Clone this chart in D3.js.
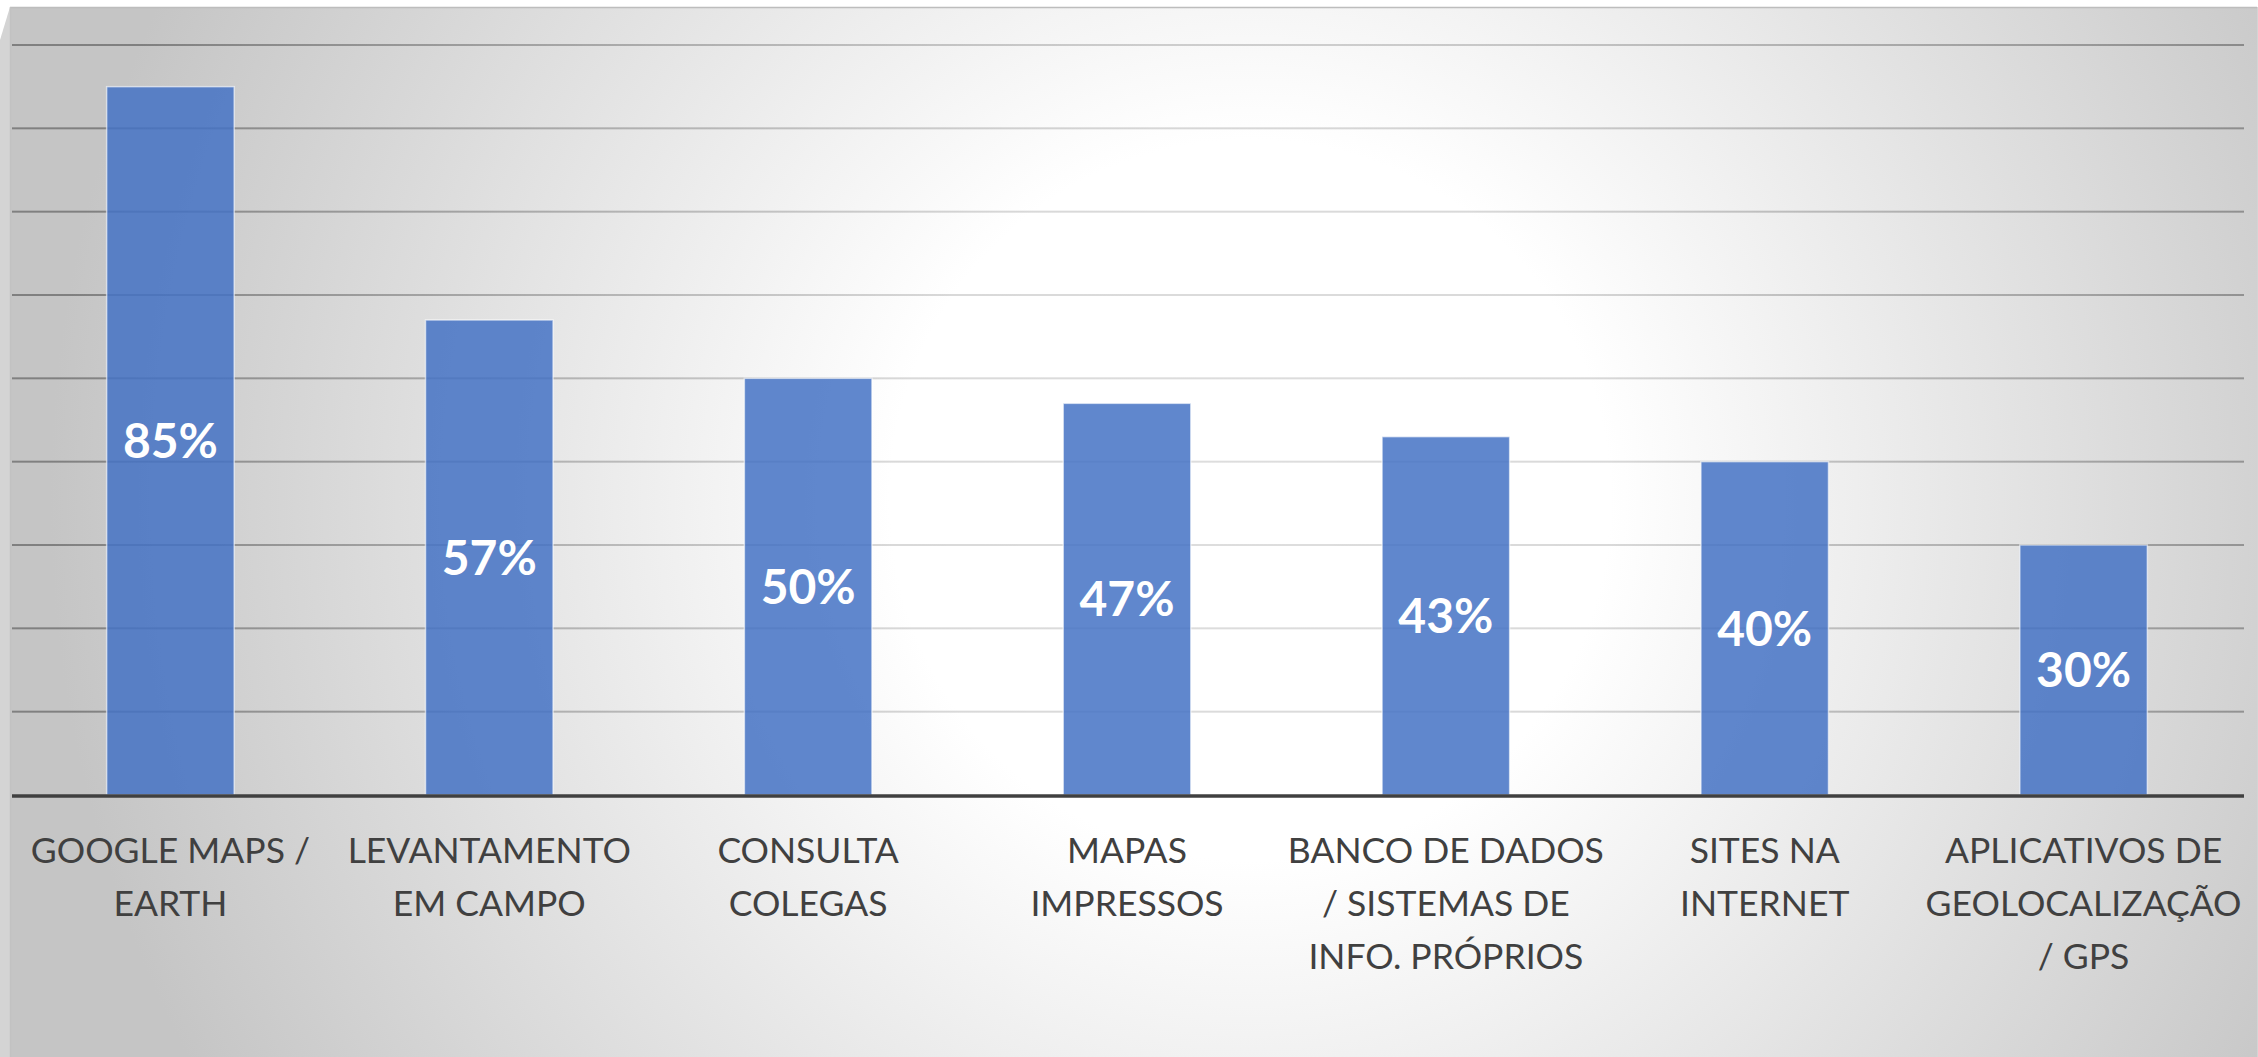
<!DOCTYPE html>
<html><head><meta charset="utf-8">
<script src="https://cdn.jsdelivr.net/npm/d3@7"></script>
<style>html,body{margin:0;padding:0;background:#fff;overflow:hidden}</style>
</head><body>
<svg id="c" width="2258" height="1057"></svg>
<script>
const categories = [
  ["GOOGLE MAPS /","EARTH"],
  ["LEVANTAMENTO","EM CAMPO"],
  ["CONSULTA","COLEGAS"],
  ["MAPAS","IMPRESSOS"],
  ["BANCO DE DADOS","/ SISTEMAS DE","INFO. PRÓPRIOS"],
  ["SITES NA","INTERNET"],
  ["APLICATIVOS DE","GEOLOCALIZAÇÃO","/ GPS"]
];
const values = [85, 57, 50, 47, 43, 40, 30];
const yTicks = [0,10,20,30,40,50,60,70,80,90];

(function(){
const W = 2258, H = 1057;
const svg = d3.select("#c");
const defs = svg.append("defs");
const bg = defs.append("radialGradient").attr("id","bg").attr("gradientUnits","userSpaceOnUse")
  .attr("cx",1250).attr("cy",500).attr("r",1200);
bg.append("stop").attr("offset","0").attr("stop-color","#ffffff");
bg.append("stop").attr("offset","0.3").attr("stop-color","#ffffff");
bg.append("stop").attr("offset","1").attr("stop-color","#c5c5c5");
const gg = defs.append("radialGradient").attr("id","gg").attr("gradientUnits","userSpaceOnUse")
  .attr("cx",1250).attr("cy",500).attr("r",1200);
gg.append("stop").attr("offset","0").attr("stop-color","#000").attr("stop-opacity",0.13);
gg.append("stop").attr("offset","0.3").attr("stop-color","#000").attr("stop-opacity",0.15);
gg.append("stop").attr("offset","1").attr("stop-color","#000").attr("stop-opacity",0.35);

svg.append("rect").attr("x",0).attr("y",7).attr("width",W).attr("height",H-7).attr("fill","#d4d4d4");
svg.append("path").attr("d","M0,7 L10,7 L0,40 Z").attr("fill","#fff");
svg.append("rect").attr("x",10).attr("y",7).attr("width",2247).attr("height",H-7).attr("fill","url(#bg)");
svg.append("line").attr("x1",10).attr("x2",2257).attr("y1",7.5).attr("y2",7.5).attr("stroke","#bdbdbd").attr("stroke-width",1.5);
svg.append("line").attr("x1",10.5).attr("x2",10.5).attr("y1",7).attr("y2",H).attr("stroke","#c2c2c2").attr("stroke-width",1.5);

const pLeft = 12, pRight = 2244, base = 795, pTop = 45;
const x = d3.scaleBand().domain(d3.range(categories.length)).range([pLeft,pRight]).paddingInner(0.6).paddingOuter(0.3);
const y = d3.scaleLinear().domain([0,90]).range([base, pTop]);

svg.append("g").selectAll("rect").data(yTicks.filter(t=>t>0)).join("rect")
  .attr("x",pLeft).attr("width",pRight-pLeft)
  .attr("y",d=>y(d)-1).attr("height",2)
  .attr("fill","url(#gg)");

svg.append("g").selectAll("rect").data(values).join("rect")
  .attr("x",(d,i)=>x(i)-1).attr("width",x.bandwidth())
  .attr("y",d=>y(d)).attr("height",d=>base-y(d))
  .attr("fill","#4472C4").attr("fill-opacity",0.85)
  .attr("stroke","#ffffff").attr("stroke-opacity",0.6).attr("stroke-width",1.5);

svg.append("line").attr("x1",pLeft).attr("x2",pRight).attr("y1",base+1).attr("y2",base+1)
  .attr("stroke","#404040").attr("stroke-width",3.5);

svg.append("g").selectAll("text").data(values).join("text")
  .attr("x",(d,i)=>x(i)-1+x.bandwidth()/2)
  .attr("y",d=>(y(d)+base)/2)
  .attr("dy","0.36em")
  .attr("text-anchor","middle")
  .attr("font-family","Lato, 'Open Sans', sans-serif").attr("font-weight","bold")
  .attr("font-size",48).attr("fill","#ffffff")
  .text(d=>d+"%");

const cg = svg.append("g");
categories.forEach((lines,i)=>{
  const cx = x(i)-1+x.bandwidth()/2;
  const t = cg.append("text")
    .attr("x",cx).attr("y",863)
    .attr("text-anchor","middle")
    .attr("font-family","Lato, 'Open Sans', sans-serif")
    .attr("font-size",35.5).attr("fill","#404040");
  lines.forEach((l,j)=>{
    t.append("tspan").attr("x",cx).attr("y",863+j*53).text(l);
  });
});
})();
</script>
</body></html>
